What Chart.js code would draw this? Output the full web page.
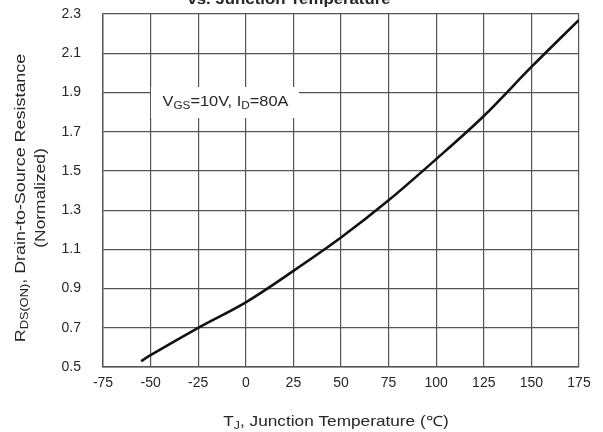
<!DOCTYPE html>
<html>
<head>
<meta charset="utf-8">
<script src="https://cdn.jsdelivr.net/npm/chart.js@4/dist/chart.umd.min.js"></script>
<style>
  html, body { margin: 0; padding: 0; background: #fff; }
  #wrap { width: 603px; height: 432px; position: relative; }
</style>
</head>
<body>
<div id="wrap"><canvas id="c" width="603" height="432"></canvas></div>
<script>
// ---- data ----
const temps = [-55, -50, -25, 0, 25, 50, 75, 100, 125, 150, 175];
const rdsOn = [0.53, 0.56, 0.70, 0.83, 0.99, 1.16, 1.35, 1.56, 1.78, 2.03, 2.27];
const xTicks = [-75, -50, -25, 0, 25, 50, 75, 100, 125, 150, 175];
const yTicks = [0.5, 0.7, 0.9, 1.1, 1.3, 1.5, 1.7, 1.9, 2.1, 2.3];

const FONT = '"Liberation Sans", Arial, sans-serif';
const TXT = '#262626';
const GRID = '#555555';

function runs(ctx, segs, size, stretch) {
  let w = 0;
  const subSize = Math.round(size * 0.68);
  segs.forEach(s => {
    ctx.font = (s.sub ? subSize : size) + 'px ' + FONT;
    s.w = ctx.measureText(s.t).width;
    w += s.w;
  });
  return {w, draw(cx, cy) {
    ctx.save();
    ctx.translate(cx, cy);
    ctx.scale(stretch, 1);
    let x = -w / 2;
    ctx.textBaseline = 'middle';
    ctx.textAlign = 'left';
    segs.forEach(s => {
      ctx.font = (s.sub ? subSize : size) + 'px ' + FONT;
      ctx.fillText(s.t, x, s.sub ? size * 0.28 : 0);
      x += s.w;
    });
    ctx.restore();
  }};
}

const textPlugin = {
  id: 'texts',
  afterDraw(chart) {
    const ctx = chart.ctx;
    ctx.save();
    ctx.fillStyle = TXT;

    // clipped top title
    ctx.save();
    ctx.translate(289, 4);
    ctx.scale(1.12, 1);
    ctx.font = 'bold 15px ' + FONT;
    ctx.textAlign = 'center';
    ctx.textBaseline = 'alphabetic';
    ctx.fillText('vs. Junction Temperature', 0, 0);
    ctx.restore();

    // annotation with white box
    ctx.fillStyle = '#fff';
    ctx.fillRect(151, 87, 148, 31);
    ctx.fillStyle = TXT;
    runs(ctx, [{t:'V'},{t:'GS',sub:true},{t:'=10V, I'},{t:'D',sub:true},{t:'=80A'}], 14, 1.17).draw(225.5, 102);

    // x axis title
    runs(ctx, [{t:'T'},{t:'J',sub:true},{t:', Junction Temperature (\u2103)'}], 14, 1.23).draw(336, 422);

    // y axis title (two lines, rotated)
    const cy = 198;
    ctx.save();
    ctx.translate(21, cy);
    ctx.rotate(-Math.PI / 2);
    runs(ctx, [{t:'R'},{t:'DS(ON)',sub:true},{t:', Drain-to-Source Resistance'}], 14, 1.28).draw(0, 0);
    ctx.restore();
    ctx.save();
    ctx.translate(41, cy);
    ctx.rotate(-Math.PI / 2);
    runs(ctx, [{t:'(Normalized)'}], 14, 1.24).draw(0, 0);
    ctx.restore();

    ctx.restore();
  }
};

const points = temps.map((t, i) => ({x: t, y: rdsOn[i]}));

new Chart(document.getElementById('c'), {
  type: 'scatter',
  data: {
    datasets: [{
      data: points,
      showLine: true,
      borderColor: '#111',
      borderWidth: 2.6,
      pointRadius: 0,
      cubicInterpolationMode: 'monotone',
      fill: false
    }]
  },
  options: {
    responsive: false,
    animation: false,
    events: [],
    layout: { padding: { left: 0, right: 24, top: 14, bottom: 0 } },
    plugins: { legend: { display: false }, tooltip: { enabled: false }, title: { display: false } },
    scales: {
      x: {
        type: 'linear',
        min: -75, max: 175,
        afterBuildTicks: s => { s.ticks = xTicks.map(v => ({value: v})); },
        afterFit: s => { s.height = 65; },
        grid: { color: GRID, lineWidth: 1.2, drawTicks: true, tickLength: 8, tickColor: 'rgba(0,0,0,0)' },
        border: { color: GRID, width: 1.4 },
        ticks: { color: TXT, padding: 0, font: { family: FONT, size: 14 }, maxRotation: 0, autoSkip: false,
                 callback: v => String(v) }
      },
      y: {
        type: 'linear',
        min: 0.5, max: 2.3,
        afterBuildTicks: s => { s.ticks = yTicks.map(v => ({value: v})); },
        afterFit: s => { s.width = 103; },
        grid: { color: GRID, lineWidth: 1.2, drawTicks: true, tickLength: 22, tickColor: 'rgba(0,0,0,0)' },
        border: { color: GRID, width: 1.4 },
        ticks: { color: TXT, padding: 0, font: { family: FONT, size: 14 }, autoSkip: false,
                 callback: v => Number(v).toFixed(1) }
      }
    }
  },
  plugins: [textPlugin]
});
</script>
</body>
</html>
